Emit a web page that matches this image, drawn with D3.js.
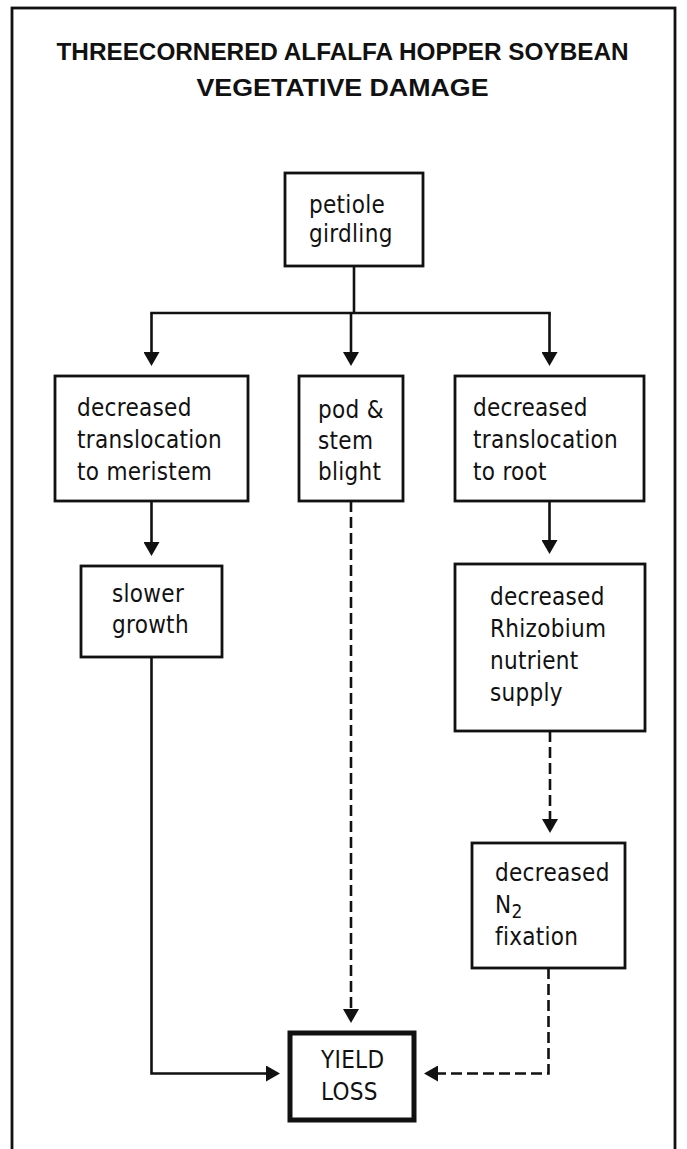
<!DOCTYPE html>
<html>
<head>
<meta charset="utf-8">
<script src="https://cdn.jsdelivr.net/npm/d3@7"></script>
<style>
  body { margin: 0; background: #fff; }
  .box text { font-family: "DejaVu Sans Condensed", "DejaVu Sans", sans-serif; font-stretch: condensed; font-size: 24px; letter-spacing: 0.3px; fill: #111; }
  .title { font-family: "Liberation Sans", Arial, sans-serif; font-weight: bold; font-size: 23px; fill: #111; }
</style>
</head>
<body>
<script>
// chart content
const titleLines = ["THREECORNERED ALFALFA HOPPER SOYBEAN", "VEGETATIVE DAMAGE"];
const nodeIds = ["girdling", "meristem", "blight", "root", "growth", "rhizobium", "fixation", "yield"];
const nodeLabels = [
    ["petiole", "girdling"],
    ["decreased", "translocation", "to meristem"],
    ["pod &", "stem", "blight"],
    ["decreased", "translocation", "to root"],
    ["slower", "growth"],
    ["decreased", "Rhizobium", "nutrient", "supply"],
    ["decreased", "N_2", "fixation"],
    ["YIELD", "LOSS"]
];
// source, target, line kind
const links = [
    ["girdling", "meristem", "solid"],
    ["girdling", "blight", "solid"],
    ["girdling", "root", "solid"],
    ["meristem", "growth", "solid"],
    ["root", "rhizobium", "solid"],
    ["rhizobium", "fixation", "dashed"],
    ["blight", "yield", "dashed"],
    ["growth", "yield", "solid"],
    ["fixation", "yield", "dashed"]
];

// where the boxes sit on the page (kept apart from the content above)
const layout = {
    girdling:  {x: 285, y: 173, w: 138, h: 93,  tx: 309, ty: 213, lead: 29},
    meristem:  {x: 55,  y: 376, w: 193, h: 125, tx: 77,  ty: 416, lead: 32},
    blight:    {x: 299, y: 376, w: 104, h: 125, tx: 318, ty: 418, lead: 31},
    root:      {x: 455, y: 376, w: 189, h: 125, tx: 473, ty: 416, lead: 32},
    growth:    {x: 81,  y: 566, w: 141, h: 91,  tx: 112, ty: 602, lead: 31},
    rhizobium: {x: 455, y: 564, w: 190, h: 167, tx: 490, ty: 605, lead: 32},
    fixation:  {x: 472, y: 843, w: 153, h: 125, tx: 495, ty: 881, lead: 32},
    yield:     {x: 290, y: 1033, w: 124, h: 87, tx: 321, ty: 1068, lead: 32}
};

const width = 687, height = 1149;
const gap = 10;      // space between arrow tip and box
const headLen = 14;

const svg = d3.select("body").append("svg")
    .attr("width", width)
    .attr("height", height);

svg.append("defs").append("marker")
    .attr("id", "head")
    .attr("markerUnits", "userSpaceOnUse")
    .attr("viewBox", "0 -8 14 16")
    .attr("refX", 0)
    .attr("refY", 0)
    .attr("markerWidth", 14)
    .attr("markerHeight", 16)
    .attr("orient", "auto")
    .append("path")
    .attr("d", "M0,-8L14,0L0,8Z")
    .attr("fill", "#111");

// outer frame
svg.append("rect")
    .attr("x", 12).attr("y", 8)
    .attr("width", 663).attr("height", 1170)
    .attr("fill", "none")
    .attr("stroke", "#111")
    .attr("stroke-width", 2.8);

svg.selectAll("text.title")
    .data(titleLines)
    .join("text")
    .attr("class", "title")
    .attr("x", width / 2 - 1)
    .attr("y", (d, i) => 60 + i * 36)
    .attr("text-anchor", "middle")
    .attr("textLength", (d, i) => i === 0 ? 572 : 292)
    .attr("lengthAdjust", "spacingAndGlyphs")
    .text(d => d);

const nodes = nodeIds.map((id, i) => Object.assign({id: id, lines: nodeLabels[i]}, layout[id]));
const byId = new Map(nodes.map(n => [n.id, n]));
const cx = n => n.x + n.w / 2;
const bottom = n => n.y + n.h;

const line = d3.line();
const linkG = svg.append("g")
    .attr("fill", "none")
    .attr("stroke", "#111")
    .attr("stroke-width", 2.6);

// links leaving one box towards several boxes share a trunk and a bar
const groups = d3.group(links, l => l[0]);
groups.forEach((ls, src) => {
    const s = byId.get(src);
    if (ls.length > 1 && ls.every(l => byId.get(l[1]).y > bottom(s) && byId.get(l[1]).y < bottom(s) + 200)) {
        const kids = ls.map(l => byId.get(l[1]));
        const top = d3.min(kids, k => k.y);
        const busY = bottom(s) + Math.round(0.43 * (top - bottom(s)));
        const xs = kids.map(cx);
        linkG.append("path").attr("d", line([[cx(s), bottom(s)], [cx(s), busY]]));
        linkG.append("path").attr("d", line([[d3.min(xs) - 1.3, busY], [d3.max(xs) + 1.3, busY]]));
        kids.forEach((k, i) => {
            linkG.append("path")
                .attr("d", line([[xs[i], busY], [xs[i], k.y - gap - headLen]]))
                .attr("marker-end", "url(#head)")
                .attr("stroke-dasharray", ls[i][2] === "dashed" ? "11,5" : null);
        });
        ls.forEach(l => l.done = true);
    }
});

links.filter(l => !l.done).forEach(l => {
    const s = byId.get(l[0]), t = byId.get(l[1]);
    let pts;
    if (Math.abs(cx(s) - cx(t)) < 6) {
        pts = [[cx(s), bottom(s)], [cx(s), t.y - gap - headLen]];
    } else {
        const ty = t.y + t.h / 2 - 3;
        const endX = cx(s) < t.x ? t.x - gap - headLen : t.x + t.w + gap + headLen;
        pts = [[cx(s), bottom(s)], [cx(s), ty], [endX, ty]];
    }
    linkG.append("path")
        .attr("d", line(pts))
        .attr("marker-end", "url(#head)")
        .attr("stroke-linejoin", "miter")
        .attr("stroke-dasharray", l[2] === "dashed" ? "11,5" : null);
});

const box = svg.selectAll("g.box")
    .data(nodes)
    .join("g")
    .attr("class", "box");

box.append("rect")
    .attr("x", d => d.x).attr("y", d => d.y)
    .attr("width", d => d.w).attr("height", d => d.h)
    .attr("fill", "#fff")
    .attr("stroke", "#111")
    .attr("stroke-width", d => d.id === "yield" ? 5 : 2.8);

box.each(function(d) {
    const g = d3.select(this);
    d.lines.forEach((s, i) => {
        const t = g.append("text")
            .attr("x", d.tx)
            .attr("y", d.ty + i * d.lead);
        const parts = s.split("_");
        t.append("tspan").text(parts[0]);
        if (parts[1]) {
            t.append("tspan").attr("dy", 5).attr("font-size", "19px").text(parts[1]);
        }
    });
});
</script>
</body>
</html>
